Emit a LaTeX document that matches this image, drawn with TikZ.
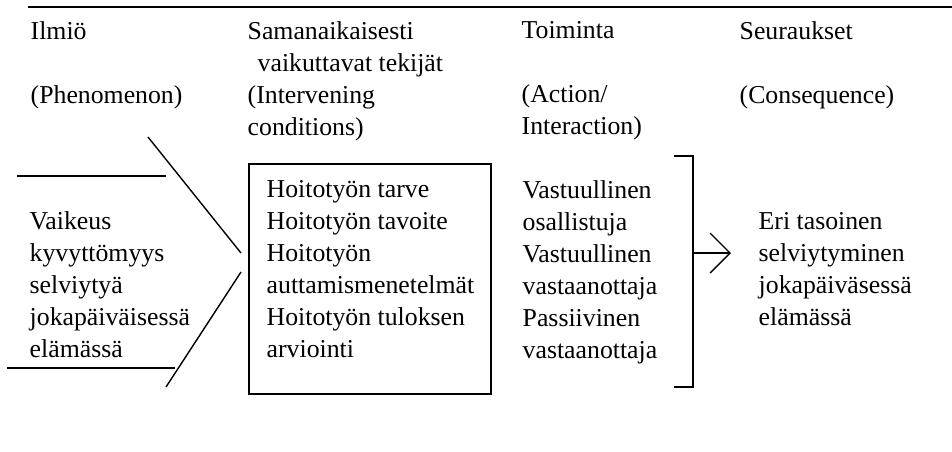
\documentclass[tikz,border=0pt]{standalone}
\usepackage{fontspec}
\setmainfont{Liberation Serif}
\usetikzlibrary{arrows.meta}

\begin{document}
\begin{tikzpicture}[x=0.015cm, y=-0.015cm, line width=0.6pt,
	>={Straight Barb[length=0.3cm, width=0.6cm]},
	txt/.style={anchor=north west, inner sep=0pt, yshift=6.95pt, align=left,
		font=\fontsize{11}{13.66}\selectfont, execute at begin node=\strut}]
		
		\useasboundingbox (0,0) rectangle (952,451);
		
		\coordinate (r1) at (28,7);
		\coordinate (r2) at (952,7);
		\coordinate (a1) at (148,137);
		\coordinate (a2) at (241,253);
		\coordinate (b1) at (241,272);
		\coordinate (b2) at (166,387);
		\coordinate (c1) at (17,176);
		\coordinate (c2) at (166,176);
		\coordinate (d1) at (7,368);
		\coordinate (d2) at (175,368);
		\coordinate (k1) at (674,156);
		\coordinate (k2) at (693,156);
		\coordinate (k3) at (693,387);
		\coordinate (k4) at (674,387);
		\coordinate (m) at (693,253);
		\coordinate (tip) at (731,253);
		
		\node[txt] (h1) at (30,37) {Ilmiö\\[13.66pt](Phenomenon)};
		\node[txt] (h2) at (247,37) {Samanaikaisesti\\\hspace*{0.15cm}vaikuttavat tekijät\\(Intervening\\conditions)};
		\node[txt] (h3) at (521,37) {Toiminta\\[13.66pt](Action/\\Interaction)};
		\node[txt] (h4) at (739,37) {Seuraukset\\[13.66pt](Consequence)};
		
		\node[txt] (phen) at (29,227) {Vaikeus\\kyvyttömyys\\selviytyä\\jokapäiväisessä\\elämässä};
		\node[draw, line width=0.65pt, anchor=north west, inner sep=0pt,
		minimum width=3.63cm, minimum height=3.45cm] (box) at (248,163) {};
		\node[txt] (cond) at (266,196) {Hoitotyön tarve\\Hoitotyön tavoite\\Hoitotyön\\auttamismenetelmät\\Hoitotyön tuloksen\\arviointi};
		\node[txt] (act) at (522,196) {Vastuullinen\\osallistuja\\Vastuullinen\\vastaanottaja\\Passiivinen\\vastaanottaja};
		\node[txt] (cons) at (758,228) {Eri tasoinen\\selviytyminen\\jokapäiväsessä\\elämässä};
		
		\draw[line width=1.2pt] (r1) -- (r2);
		\draw (a1) -- (a2);
		\draw (b1) -- (b2);
		\draw (c1) -- (c2);
		\draw (d1) -- (d2);
		\draw[line width=0.65pt] (k1) -- (k2) -- (k3) -- (k4);
		\draw[->] (m) -- (tip);
		
\end{tikzpicture}
\end{document}
